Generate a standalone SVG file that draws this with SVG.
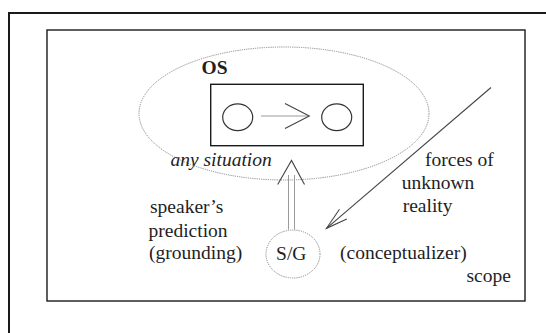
<svg xmlns="http://www.w3.org/2000/svg" width="546" height="333" viewBox="0 0 546 333">
  <style>
    .lbl { font-family: 'Liberation Serif', 'DejaVu Serif', serif; font-size: 19.5px; fill: #1e1e24; }
    .ital { font-style: italic; }
    .frame { fill: none; stroke: #1a1a1a; }
    .dotted { fill: none; stroke: #8a8a8a; stroke-width: 1; stroke-dasharray: 1.2 1; }
    .ring { fill: none; stroke: #333; stroke-width: 1.2; }
    .conn { fill: none; stroke: #444; stroke-width: 1.1; }
    .conn-light { fill: none; stroke: #9a9a9a; stroke-width: 1; }
  </style>

  <rect width="546" height="333" fill="#fff"/>

  <!-- outer page frame -->
  <rect class="frame" x="9" y="13" width="570" height="360" stroke-width="2"/>

  <!-- scope rectangle -->
  <g id="scope">
    <rect class="frame" x="47" y="30" width="478" height="271" stroke-width="1.4"/>
    <text class="lbl" x="466.5" y="282">scope</text>
  </g>

  <!-- objective scene -->
  <g id="os">
    <ellipse class="dotted" cx="284" cy="113.5" rx="145" ry="66.5"/>
    <text class="lbl" x="201.5" y="73.5" font-weight="bold" font-size="17px">OS</text>
    <text class="lbl ital" x="170.5" y="165.5">any situation</text>
  </g>

  <!-- situation box with two participants -->
  <g id="situation">
    <rect class="frame" x="210.7" y="84.3" width="152.6" height="61.4" stroke-width="1.4" stroke="#333"/>
    <ellipse class="ring" cx="237.7" cy="117.3" rx="15" ry="13.4"/>
    <ellipse class="ring" cx="336.7" cy="117.3" rx="15" ry="13.4"/>
  </g>

  <!-- speaker / ground -->
  <g id="sg">
    <ellipse class="dotted" cx="293" cy="254" rx="27" ry="24"/>
    <text class="lbl" x="291.3" y="259.5" text-anchor="middle">S/G</text>
  </g>

  <g id="labels">
    <text class="lbl" x="150" y="212.7">speaker’s</text>
    <text class="lbl" x="148.5" y="236.7">prediction</text>
    <text class="lbl" x="149" y="258.5">(grounding)</text>
    <text class="lbl" x="340" y="259">(conceptualizer)</text>
    <text class="lbl" x="425" y="166">forces of</text>
    <text class="lbl" x="401.7" y="189.3">unknown</text>
    <text class="lbl" x="402.7" y="212.3">reality</text>
  </g>

  <g id="connectors">
    <!-- interaction arrow inside the situation -->
    <line class="conn-light" x1="261" y1="116" x2="309" y2="116"/>
    <polyline class="conn" points="285,103.5 309.3,116 285,128.5"/>
    <!-- grounding double arrow -->
    <line class="conn-light" x1="288.5" y1="175" x2="288.5" y2="229.5"/>
    <line class="conn-light" x1="294.5" y1="175" x2="294.5" y2="229.5"/>
    <polyline class="conn" points="277.7,184.5 291.5,160.5 304.5,184.5"/>
    <!-- forces of unknown reality -->
    <line class="conn" x1="491" y1="87.5" x2="326.5" y2="228.3"/>
    <polyline class="conn" points="339.5,209.3 326.5,228.3 346.8,219"/>
  </g>
</svg>
